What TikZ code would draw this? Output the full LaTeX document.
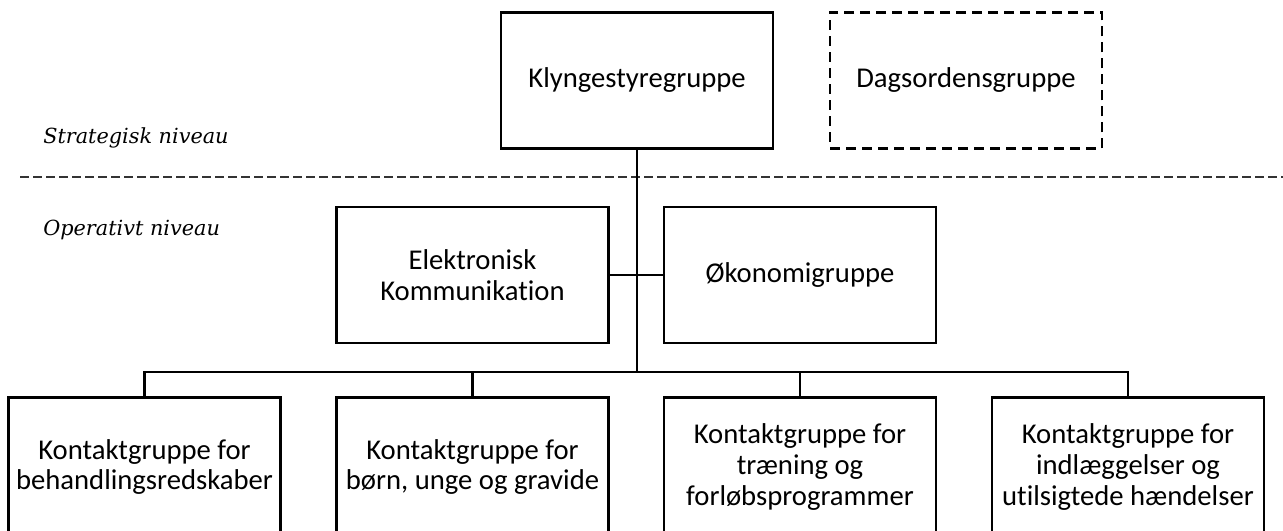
\documentclass[tikz,border=0pt]{standalone}
\usepackage{fontspec}
\setmainfont{Carlito}[Ligatures=CommonOff]
\newfontfamily\levelfont{DejaVu Serif}
\usetikzlibrary{positioning}
\tikzset{
  groupbox/.style={
    rectangle, draw=black, line width=2pt, minimum width=204pt, minimum height=102pt,
    align=center, inner sep=2pt, font=\fontsize{21.5}{23.2}\selectfont
  },
  optional/.style={groupbox, dash pattern=on 7.5pt off 4.5pt},
  link/.style={line width=2pt},
  separator/.style={line width=0.9pt, draw=black!80, dash pattern=on 6.75pt off 3pt},
  levellabel/.style={anchor=west, inner sep=0pt, font=\levelfont\itshape\fontsize{15.6}{18}\selectfont}
}

\begin{document}
\begin{tikzpicture}[x=0.75pt, y=-0.75pt]
    \clip (0,0) rectangle (1283,531);
    
    % Strategic level
    \node[groupbox] (klynge) at (637,80.5) {Klyngestyregruppe};
    \node[optional] (dagsorden) at (966,80.5) {Dagsordensgruppe};
    \node[levellabel] (strategisk) at (43,138) {Strategisk niveau};
    
    \coordinate (sepL) at (20,177);
    \coordinate (sepR) at (1283,177);
    \draw[separator] (sepL) -- (sepR);
    
    % Operative level
    \node[levellabel] (operativt) at (43,230) {Operativt niveau};
    \node[groupbox] (elektronisk) at (472.5,275) {Elektronisk\\Kommunikation};
    \node[groupbox] (okonomi) at (800,275) {Økonomigruppe};
    
    \node[groupbox, minimum height=104pt] (kontakt1) at (144.5,467) {Kontaktgruppe for\\behandlingsredskaber};
    \node[groupbox, minimum height=104pt] (kontakt2) at (472.5,467) {Kontaktgruppe for\\børn, unge og gravide};
    \node[groupbox, minimum height=104pt] (kontakt3) at (800,467) {Kontaktgruppe for\\træning og\\forløbsprogrammer};
    \node[groupbox, minimum height=104pt] (kontakt4) at (1128,467) {Kontaktgruppe for\\indlæggelser og\\utilsigtede hændelser};
    
    \coordinate (bus) at (637,372);
    \draw[link] (klynge.south) -- (klynge.south |- bus);
    \draw[link] (elektronisk.east) -- (okonomi.west);
    \draw[link] (kontakt1.north) |- (bus) -| (kontakt4.north);
    \draw[link] (kontakt2.north) -- (kontakt2.north |- bus);
    \draw[link] (kontakt3.north) -- (kontakt3.north |- bus);
    
\end{tikzpicture}
\end{document}
